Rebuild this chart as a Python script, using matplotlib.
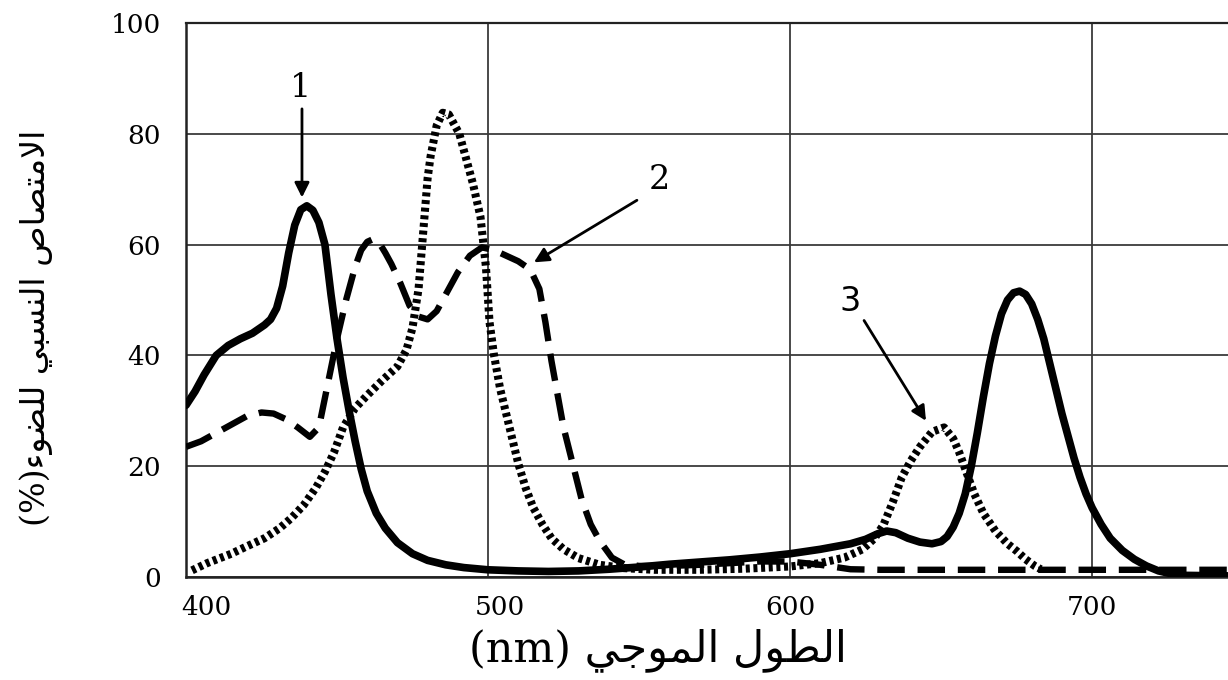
import matplotlib
matplotlib.use("Agg")
import matplotlib.pyplot as plt
from matplotlib.transforms import ScaledTranslation

# ---------------- data ----------------
wl_1 = [400, 403, 406, 410, 414, 418, 422, 426, 428, 430, 432, 434, 436, 438, 440,
        442, 444, 446, 448, 450, 452, 454, 456, 458, 460, 463, 466, 470, 475, 480,
        486, 492, 500, 510, 520, 530, 540, 550, 560, 570, 580, 590, 600, 610, 620,
        625, 629, 632, 635, 639, 643, 647, 650, 652, 654, 656, 658, 660, 662, 664,
        666, 668, 670, 672, 674, 676, 678, 680, 682, 684, 686, 688, 690, 692, 694,
        696, 698, 700, 703, 706, 710, 714, 718, 722, 726, 730, 745]
abs_1 = [31, 33.5, 36.5, 40, 41.8, 43, 44, 45.5, 46.5, 48.5, 52.5, 58.5, 63.5, 66.3, 67,
         66.2, 64, 60, 51, 43, 36, 30, 24.5, 19.5, 15.5, 11.5, 8.8, 6.2, 4.2, 3.0,
         2.2, 1.7, 1.3, 1.1, 1.0, 1.1, 1.4, 1.8, 2.3, 2.7, 3.1, 3.6, 4.2, 5.0, 6.0,
         6.8, 7.8, 8.3, 8.0, 7.0, 6.3, 6.0, 6.4, 7.3, 9.0, 11.5, 15, 20, 26, 32.5,
         38.5, 43.5, 47.5, 50, 51.3, 51.6, 51, 49.3, 46.5, 43, 38.5, 34, 29.5, 25.5, 21.5,
         18, 15, 12.5, 9.5, 7, 4.8, 3.2, 2.0, 1.1, 0.6, 0.3, 0.2]

wl_2 = [400, 405, 410, 415, 420, 425, 429, 433, 437, 441, 444, 447, 450, 453, 456,
        458, 460, 462, 464, 466, 468, 471, 474, 477, 480, 483, 486, 490, 494, 498,
        502, 506, 510, 514, 517, 519, 521, 523, 525, 528, 531, 534, 537, 541, 545,
        550, 560, 570, 580, 590, 600, 610, 620, 630, 745]
abs_2 = [23.5, 24.5, 26, 27.5, 29, 29.7, 29.5, 28.5, 27, 25.3, 27, 35, 43, 50, 56,
         59, 60.5, 61, 60.3, 58.5, 56.5, 53, 49, 47, 46.5, 48, 51, 55, 58, 59.5,
         59, 58, 57, 55.5, 52, 46, 39, 33, 27, 20.5, 14, 9.5, 6.5, 3.5, 2.3,
         2.0, 2.0, 2.2, 2.5, 2.8, 2.8, 2.2, 1.4, 1.3, 1.3]

wl_3 = [402, 407, 415, 420, 426, 431, 435, 439, 443, 446, 449, 452, 456, 460, 465,
        470, 473, 475, 477, 478.5, 480, 481, 483, 485, 487, 489, 490.5, 492.5, 495, 497.5,
        499.3, 500.5, 502, 504, 506, 508, 510, 512.5, 515, 518, 521, 525, 530, 537, 545,
        555, 570, 585, 600, 610, 618, 624, 628, 631, 634, 637, 640, 643, 647, 651,
        654, 656, 658, 661, 664, 668, 672, 675, 678, 681, 683]
abs_3 = [1.2, 2.5, 4.2, 5.5, 7, 8.8, 10.7, 13, 16.1, 19, 22.5, 27, 30.5, 32.8, 35.5,
         38, 41, 45, 52, 62, 72, 76, 81.5, 83.8, 83.5, 81.5, 80, 76, 71, 65,
         56, 46, 40, 34, 29.5, 25, 20.5, 16, 12.5, 9.5, 7, 5, 3.4, 2.2, 1.6,
         1.3, 1.3, 1.5, 1.9, 2.5, 3.5, 5, 7, 9.5, 13.5, 18, 21, 23.5, 26.2, 27,
         25, 22.5, 19.5, 15, 11.5, 8.3, 6, 4.7, 3.2, 2, 1.4]

x_ticks = [400, 500, 600, 700]
y_ticks = [0, 20, 40, 60, 80, 100]

# Arabic labels, pre-shaped (presentation forms, visual order)
w_tul = "\uFEDD\uFEEE\uFEC4\uFEDF\uFE8D"          # الطول
w_mawji = "\uFEF2\uFE9F\uFEEE\uFEE4\uFEDF\uFE8D"   # الموجي
x_label = "(nm) " + w_mawji + " " + w_tul
w_imtisas = "\uFEB9\uFE8E\uFEBC\uFE98\uFEE3\uFEFB\uFE8D"  # الامتصاص
w_nisbi = "\uFEF2\uFE92\uFEB4\uFEE8\uFEDF\uFE8D"          # النسبي
w_daw = "\uFE80\uFEEE\uFEC0\uFEE0\uFEDF"                  # للضوء
y_label = "(%)" + w_daw + " " + w_nisbi + " " + w_imtisas

fam = ["DejaVu Serif", "DejaVu Sans"]

# ---------------- figure ----------------
fig = plt.figure(figsize=(12.28, 6.8), dpi=100)
ax = fig.add_axes([186 / 1228, 1 - 577 / 680, 1 - 186 / 1228, (577 - 23) / 680])
ax.set_xlim(400, 745)
ax.set_ylim(0, 100)

ax.set_xticks(x_ticks)
ax.set_yticks(y_ticks)
ax.tick_params(length=0, labelsize=19, pad=13)
ax.tick_params(axis="y", pad=18)
for lab in ax.get_xticklabels() + ax.get_yticklabels():
    lab.set_family("DejaVu Serif")
# small rightward offsets of the first two x labels, as in the original
xl = ax.get_xticklabels()
xl[0].set_transform(xl[0].get_transform() + ScaledTranslation(20 / 100, 0, fig.dpi_scale_trans))
xl[1].set_transform(xl[1].get_transform() + ScaledTranslation(12 / 100, 0, fig.dpi_scale_trans))

ax.grid(True, color="#3a3a3a", lw=1.3, zorder=0)
ax.set_axisbelow(True)
ax.spines["right"].set_visible(False)
ax.spines["top"].set_linewidth(1.6)
ax.spines["left"].set_linewidth(1.8)
ax.spines["bottom"].set_linewidth(1.8)
for s in ax.spines.values():
    s.set_color("#222222")

ax.plot(wl_1, abs_1, color="black", lw=5.5, solid_capstyle="round",
        solid_joinstyle="round", zorder=3)
ax.plot(wl_2, abs_2, color="black", lw=4.6, linestyle=(0, (4.3, 2.0)),
        dash_capstyle="butt", dash_joinstyle="round", zorder=3)
ax.plot(wl_3, abs_3, color="black", lw=5.8, linestyle=(0, (0.5, 0.45)),
        dash_capstyle="butt", dash_joinstyle="round", zorder=3)

arrow = dict(arrowstyle="-|>", color="black", lw=2, mutation_scale=22,
             shrinkA=0, shrinkB=0)
ax.annotate("", xy=(438.4, 68.5), xytext=(438.4, 84.5), arrowprops=arrow)
ax.text(438, 88.2, "1", ha="center", va="center", fontsize=24, family="DejaVu Serif")
ax.annotate("", xy=(515.2, 56.8), xytext=(549.3, 68), arrowprops=arrow)
ax.text(556.6, 71.6, "2", ha="center", va="center", fontsize=24, family="DejaVu Serif")
ax.annotate("", xy=(645, 28.2), xytext=(624.5, 46.3), arrowprops=arrow)
ax.text(619.9, 49.7, "3", ha="center", va="center", fontsize=24, family="DejaVu Sans")

fig.text(658 / 1228, 1 - 650 / 680, x_label, ha="center", va="center",
         fontsize=31, family=fam)
fig.text(36 / 1228, 1 - 328 / 680, y_label, ha="center", va="center",
         rotation=90, fontsize=24, family=fam)

fig.savefig("out.png", dpi=100, facecolor="white")
